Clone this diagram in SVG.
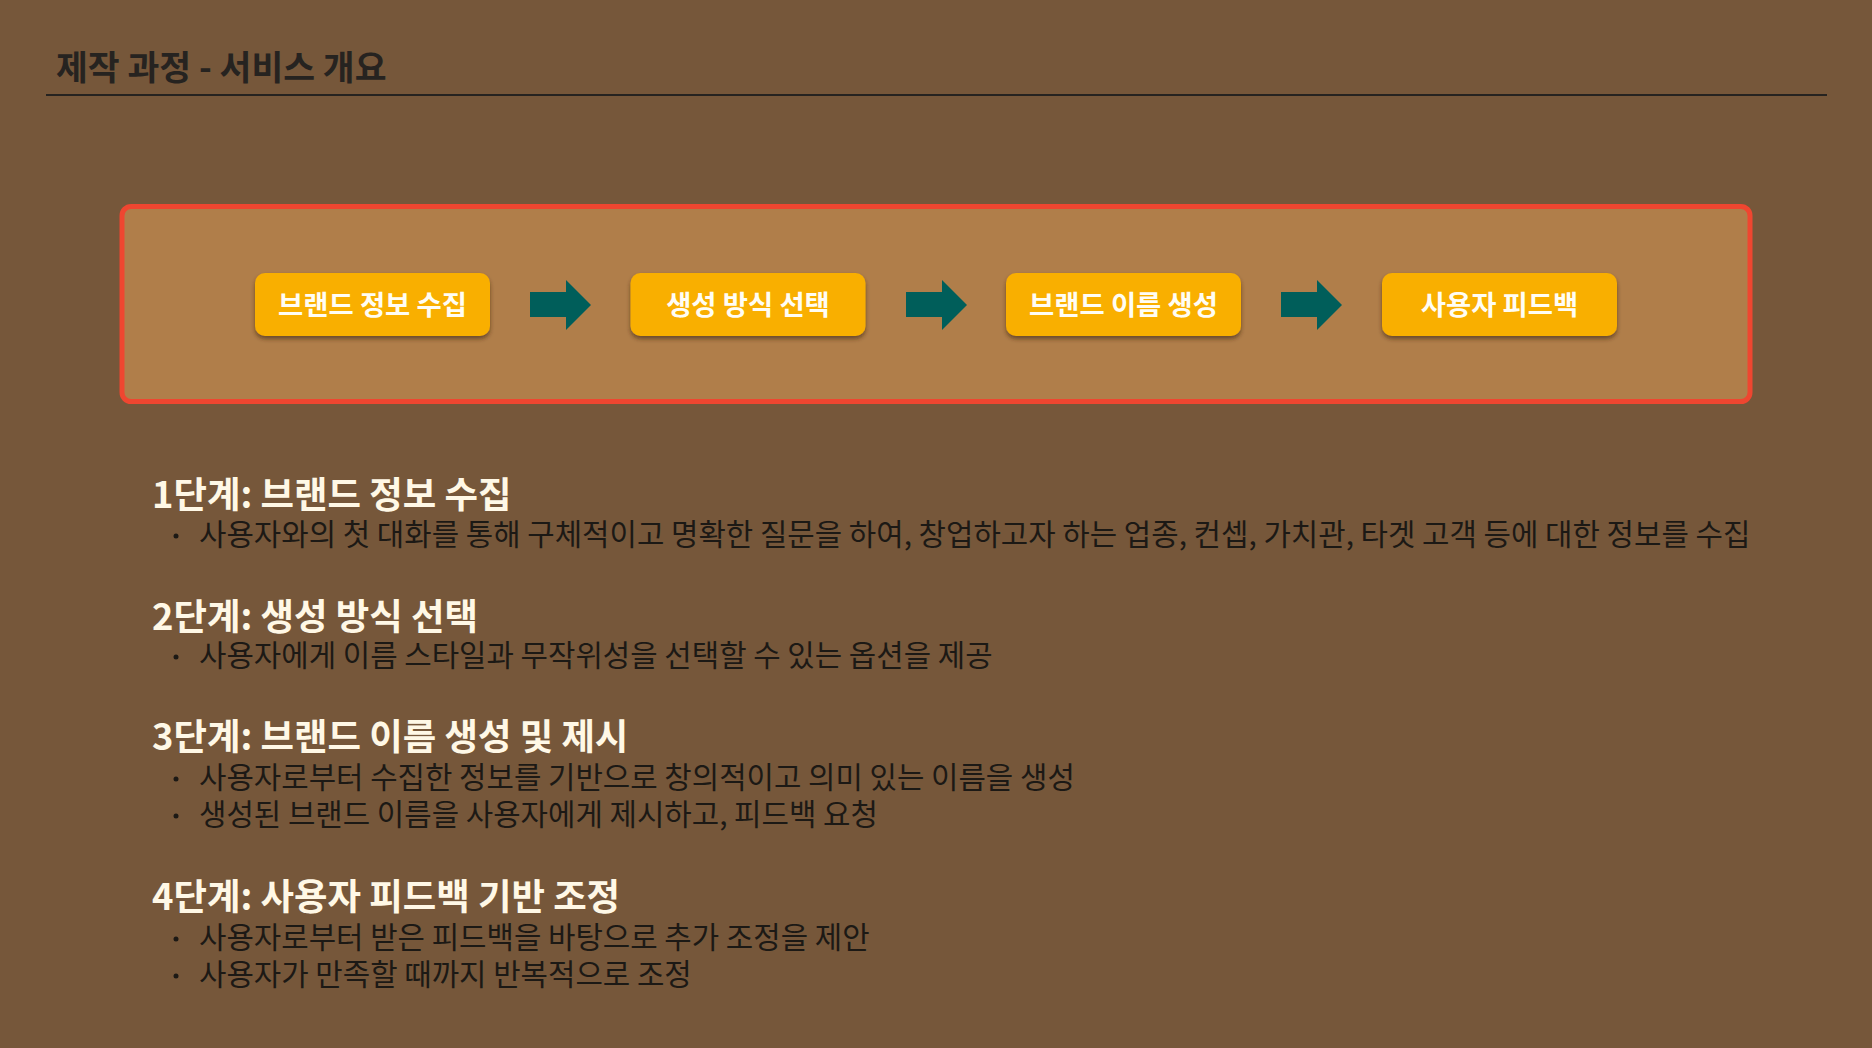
<svg xmlns="http://www.w3.org/2000/svg" width="1872" height="1048" viewBox="0 0 1872 1048">
<defs>
<style>
.title{font-family:"Noto Sans CJK KR","Noto Sans",sans-serif;font-size:34.6px;font-weight:700;fill:#262320}
.box{fill:#F9AF00}
.boxtxt{font-family:"Noto Sans CJK KR","Noto Sans",sans-serif;font-size:27.4px;font-weight:700;fill:#FFFDF4;text-anchor:middle}
.arrow{fill:#005E5A}
.head{font-family:"Noto Sans CJK KR","Noto Sans",sans-serif;font-size:36.4px;font-weight:700;fill:#FFF8E6}
.body{font-family:"Noto Sans CJK KR","Noto Sans",sans-serif;font-size:29.8px;font-weight:400;fill:#1C1915}
.dot{fill:#1C1915}
</style>
<filter id="sh" x="-10%" y="-20%" width="120%" height="160%">
<feDropShadow dx="0" dy="3" stdDeviation="2" flood-color="#3a2510" flood-opacity="0.6"/>
</filter>
</defs>
<rect width="1872" height="1048" fill="#76573A"/>
<g id="header">
<text class="title" x="56" y="80">제작 과정 - 서비스 개요</text>
<line x1="46" y1="95" x2="1827" y2="95" stroke="#262320" stroke-width="2"/>
</g>
<g id="flow-frame">
<rect x="122" y="206.5" width="1628" height="195" rx="9" fill="#B07E4A" stroke="#EF4630" stroke-width="5"/>
</g>
<g id="node1">
<rect class="box" x="255" y="273" width="235" height="63" rx="10" filter="url(#sh)"/>
<text class="boxtxt" x="372.5" y="315">브랜드 정보 수집</text>
</g>
<g id="node2">
<rect class="box" x="630.5" y="273" width="235" height="63" rx="10" filter="url(#sh)"/>
<text class="boxtxt" x="748" y="315">생성 방식 선택</text>
</g>
<g id="node3">
<rect class="box" x="1006" y="273" width="235" height="63" rx="10" filter="url(#sh)"/>
<text class="boxtxt" x="1123.5" y="315">브랜드 이름 생성</text>
</g>
<g id="node4">
<rect class="box" x="1382" y="273" width="235" height="63" rx="10" filter="url(#sh)"/>
<text class="boxtxt" x="1499.5" y="315">사용자 피드백</text>
</g>
<g id="connectors">
<polygon class="arrow" points="530,292 566,292 566,280 591,305 566,330 566,317 530,317"/>
<polygon class="arrow" points="906,292 942,292 942,280 967,305 942,330 942,317 906,317"/>
<polygon class="arrow" points="1281,292 1317,292 1317,280 1342,305 1317,330 1317,317 1281,317"/>
</g>
<g id="step1">
<text class="head" x="152" y="508">1단계: 브랜드 정보 수집</text>
<circle class="dot" cx="176" cy="536" r="2.5"/>
<text class="body" x="199" y="545">사용자와의 첫 대화를 통해 구체적이고 명확한 질문을 하여, 창업하고자 하는 업종, 컨셉, 가치관, 타겟 고객 등에 대한 정보를 수집</text>
</g>
<g id="step2">
<text class="head" x="152" y="630">2단계: 생성 방식 선택</text>
<circle class="dot" cx="176" cy="657" r="2.5"/>
<text class="body" x="199" y="666">사용자에게 이름 스타일과 무작위성을 선택할 수 있는 옵션을 제공</text>
</g>
<g id="step3">
<text class="head" x="152" y="750">3단계: 브랜드 이름 생성 및 제시</text>
<circle class="dot" cx="176" cy="779" r="2.5"/>
<text class="body" x="199" y="788">사용자로부터 수집한 정보를 기반으로 창의적이고 의미 있는 이름을 생성</text>
<circle class="dot" cx="176" cy="816" r="2.5"/>
<text class="body" x="199" y="825">생성된 브랜드 이름을 사용자에게 제시하고, 피드백 요청</text>
</g>
<g id="step4">
<text class="head" x="152" y="910">4단계: 사용자 피드백 기반 조정</text>
<circle class="dot" cx="176" cy="939" r="2.5"/>
<text class="body" x="199" y="948">사용자로부터 받은 피드백을 바탕으로 추가 조정을 제안</text>
<circle class="dot" cx="176" cy="976" r="2.5"/>
<text class="body" x="199" y="985">사용자가 만족할 때까지 반복적으로 조정</text>
</g>
</svg>
